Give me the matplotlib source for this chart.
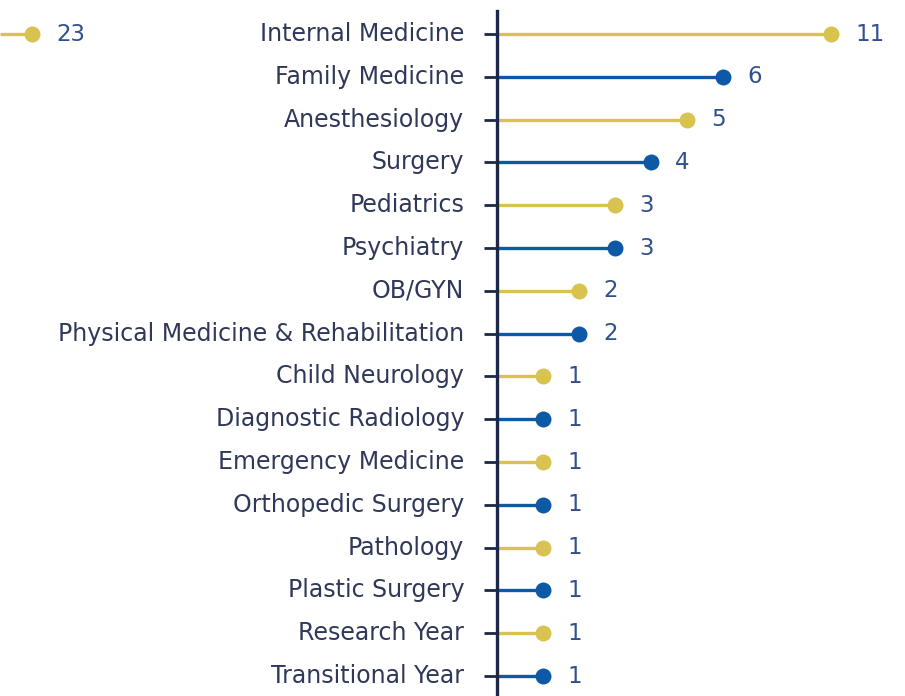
import matplotlib.pyplot as plt
import numpy as np

specialties = ["Internal Medicine", "Family Medicine", "Anesthesiology", "Surgery",
               "Pediatrics", "Psychiatry", "OB/GYN", "Physical Medicine & Rehabilitation",
               "Child Neurology", "Diagnostic Radiology", "Emergency Medicine",
               "Orthopedic Surgery", "Pathology", "Plastic Surgery", "Research Year",
               "Transitional Year"]
counts = [11, 6, 5, 4, 3, 3, 2, 2, 1, 1, 1, 1, 1, 1, 1, 1]
# value sticking in from the cut-off panel on the left (same row as Internal Medicine)
left_value = 23

YELLOW = "#d8c250"
BLUE = "#0d59a6"
NAVY = "#1d2748"
TEXT = "#2f3858"
VALUE_TEXT = "#30508e"

plt.rcParams['font.family'] = ['DejaVu Sans']


# axis is compressed above 6 so the long bar fits
def fwd(x):
    x = np.asarray(x, dtype=float)
    return np.where(x <= 6, x, 6 + (x - 6) * 0.6)


def inv(x):
    x = np.asarray(x, dtype=float)
    return np.where(x <= 6, x, 6 + (x - 6) / 0.6)


W, H = 905, 696
fig = plt.figure(figsize=(W / 100, H / 100), dpi=100)
ax = fig.add_axes([497 / W, -1.5 / H, 408 / W, 687 / H])
ax.set_xscale('function', functions=(fwd, inv))
ax.set_xlim(inv(-10 / 36), inv(-10 / 36 + 408 / 36))
ax.set_ylim(len(specialties) - 0.5, -0.55)

y = np.arange(len(specialties))
colors = [YELLOW if i % 2 == 0 else BLUE for i in range(len(specialties))]
x0 = ax.get_xlim()[0]
for yi, c, col in zip(y, counts, colors):
    ax.plot([x0, c], [yi, yi], color=col, lw=2.4, solid_capstyle='butt', zorder=2)
    ax.plot(c, yi, 'o', color=col, ms=11.5, mec='none', zorder=3)
    ax.annotate(str(c), (c, yi), xytext=(24, 0), textcoords='offset pixels',
                ha='left', va='center', fontsize=16.5, color=VALUE_TEXT)

ax.set_yticks(y)
ax.set_yticklabels(specialties, fontsize=17, color=TEXT, va='center')
ax.tick_params(axis='y', length=9.5, width=2, color=NAVY, pad=14)
ax.set_xticks([])
for s in ['top', 'right', 'bottom']:
    ax.spines[s].set_visible(False)
ax.spines['left'].set_color(NAVY)
ax.spines['left'].set_linewidth(2.4)

# clipped piece of the neighbouring panel
ax2 = fig.add_axes([0, -1.5 / H, 40 / W, 687 / H], sharey=ax)
ax2.set_xlim(0, left_value * 40 / 32)
ax2.plot([0, left_value], [0, 0], color=YELLOW, lw=2.4, solid_capstyle='butt')
ax2.plot(left_value, 0, 'o', color=YELLOW, ms=11.5, mec='none', clip_on=False)
ax2.annotate(str(left_value), (left_value, 0), xytext=(24, 0), textcoords='offset pixels',
             ha='left', va='center', fontsize=16.5, color=VALUE_TEXT,
             annotation_clip=False)
ax2.axis('off')

fig.savefig("out.png", dpi=100)
